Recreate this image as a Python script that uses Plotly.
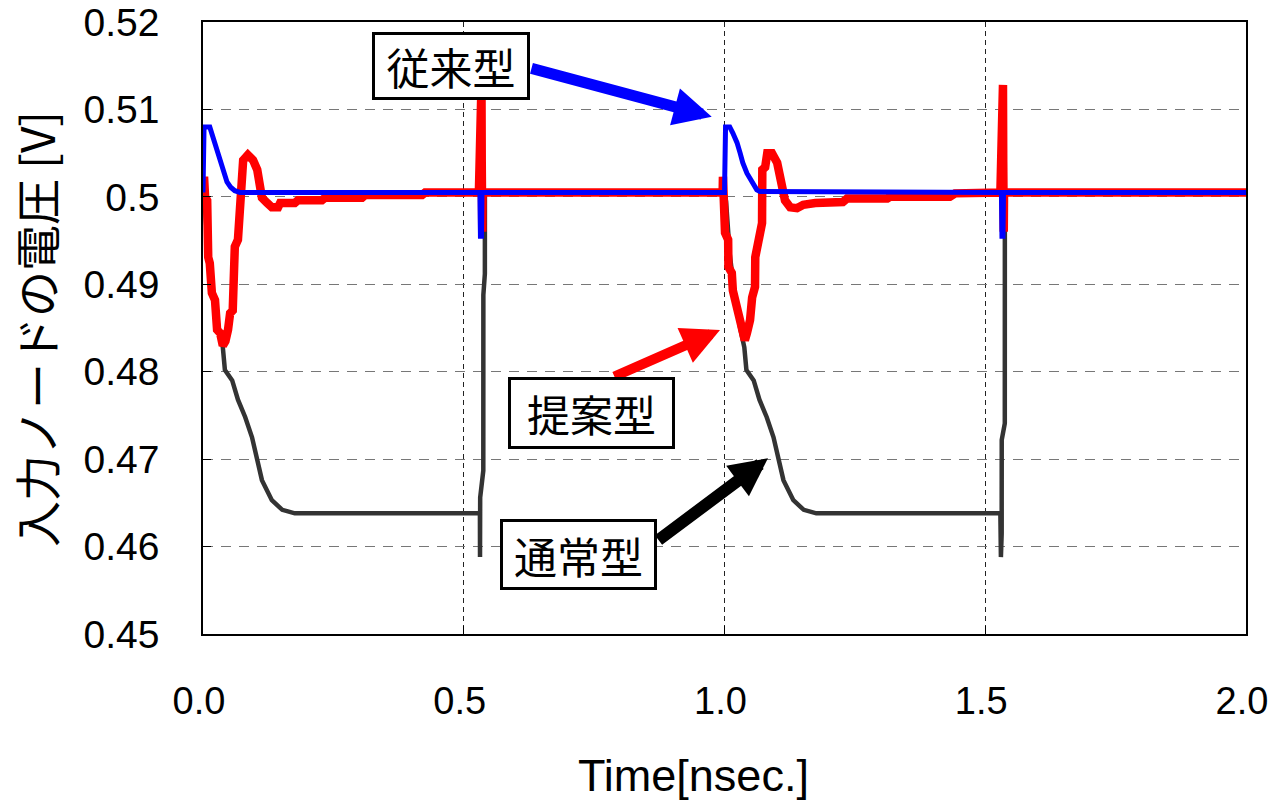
import plotly.graph_objects as go

# ---- data ----
# 従来型 (blue)
t_conv = [0.000, 0.002, 0.013, 0.017, 0.023, 0.028, 0.033, 0.040, 0.046, 0.053, 0.061, 0.071,
          0.531, 0.532, 0.534, 0.535,
          1.000, 1.002, 1.010, 1.016, 1.024, 1.030, 1.035, 1.043, 1.053, 1.062, 1.068,
          1.531, 1.532, 1.534, 1.535, 2.000]
v_conv = [0.5005, 0.5080, 0.5080, 0.5072, 0.5062, 0.5050, 0.5039, 0.5027, 0.5017, 0.5011, 0.5007, 0.5005,
          0.5005, 0.4955, 0.4955, 0.5005,
          0.5005, 0.5080, 0.5080, 0.5073, 0.5062, 0.5050, 0.5039, 0.5027, 0.5016, 0.5008, 0.5006,
          0.5005, 0.4955, 0.4955, 0.5005, 0.5005]

# 提案型 (red)
t_prop = [0.000, 0.002, 0.004, 0.008, 0.010, 0.013, 0.017, 0.023, 0.027, 0.033, 0.038, 0.043,
          0.048, 0.052, 0.057, 0.059, 0.061, 0.067, 0.071, 0.075, 0.077, 0.086, 0.096, 0.104,
          0.109, 0.113, 0.123, 0.132, 0.144, 0.148, 0.176, 0.182, 0.228, 0.234, 0.305, 0.311,
          0.420, 0.426,
          0.529, 0.5305, 0.531, 0.534, 0.5345, 0.535, 0.5355, 0.536,
          0.9965, 0.997, 1.001, 1.007, 1.0075, 1.014, 1.016, 1.024, 1.030, 1.034, 1.039, 1.043, 1.049,
          1.053, 1.0585, 1.059, 1.068, 1.072, 1.0725, 1.078, 1.082, 1.091, 1.101, 1.106, 1.112,
          1.116, 1.126, 1.139, 1.151, 1.174, 1.227, 1.235, 1.312, 1.317, 1.432, 1.442,
          1.529, 1.5305, 1.531, 1.534, 1.5345, 1.535, 1.5355, 1.536, 2.000]
v_prop = [0.5005, 0.5023, 0.5000, 0.4996, 0.4931, 0.4924, 0.4890, 0.4882, 0.4848, 0.4844, 0.4830, 0.4835,
          0.4848, 0.4867, 0.4870, 0.4905, 0.4943, 0.4951, 0.4996, 0.5027, 0.5042, 0.5048, 0.5042, 0.5031,
          0.5016, 0.4999, 0.4993, 0.4988, 0.4988, 0.4993, 0.4993, 0.4996, 0.4996, 0.4999, 0.4999, 0.5002,
          0.5002, 0.5005,
          0.5005, 0.5040, 0.5125, 0.5128, 0.5040, 0.5005, 0.4960, 0.5005,
          0.5005, 0.5023, 0.4959, 0.4951, 0.4920, 0.4913, 0.4893, 0.4874, 0.4867, 0.4848, 0.4836, 0.4844, 0.4859,
          0.4885, 0.4897, 0.4931, 0.4959, 0.4970, 0.5031, 0.5034, 0.5050, 0.5050, 0.5039, 0.5023, 0.5011,
          0.4996, 0.4988, 0.4987, 0.4991, 0.4993, 0.4994, 0.4998, 0.4998, 0.5000, 0.5000, 0.5004,
          0.5005, 0.5040, 0.5125, 0.5128, 0.5040, 0.5005, 0.4960, 0.5005, 0.5005]

# 通常型 (dark gray)
t_norm = [0.000, 0.003, 0.010, 0.020, 0.030, 0.038, 0.042, 0.056, 0.067, 0.081, 0.094, 0.104,
          0.113, 0.132, 0.152, 0.176,
          0.5310, 0.5312, 0.5315, 0.5375, 0.5376, 0.5405, 0.5406,
          1.000, 1.003, 1.010, 1.020, 1.030, 1.038, 1.042, 1.056, 1.067, 1.081, 1.094, 1.104,
          1.113, 1.132, 1.152, 1.176,
          1.5290, 1.5300, 1.5315, 1.5316, 1.5375, 1.5376, 2.000]
v_norm = [0.5005, 0.4995, 0.4935, 0.4885, 0.4850, 0.4828, 0.4802, 0.4790, 0.4768, 0.4748, 0.4725, 0.4699,
          0.4676, 0.4653, 0.4642, 0.4638,
          0.4638, 0.4588, 0.4656, 0.4687, 0.4888, 0.4912, 0.5005,
          0.5005, 0.4995, 0.4935, 0.4885, 0.4850, 0.4828, 0.4802, 0.4790, 0.4768, 0.4748, 0.4725, 0.4699,
          0.4676, 0.4653, 0.4642, 0.4638,
          0.4638, 0.4588, 0.4615, 0.4722, 0.4741, 0.5005, 0.5005]

x_tickvals = [0.0, 0.5, 1.0, 1.5, 2.0]
x_ticktext = ["0.0", "0.5", "1.0", "1.5", "2.0"]
y_tickvals = [0.45, 0.46, 0.47, 0.48, 0.49, 0.50, 0.51, 0.52]
y_ticktext = ["0.45", "0.46", "0.47", "0.48", "0.49", "0.5", "0.51", "0.52"]

labels = ["従来型", "提案型", "通常型"]
# label box centers and arrow (tail -> tip), in data units
box_pos = [(0.4765, 0.51497), (0.745, 0.47532), (0.720, 0.45907)]
arrow_tail = [(0.627, 0.51474), (0.786, 0.47938), (0.8706, 0.46062)]
arrow_tip = [(0.9755, 0.50917), (0.9914, 0.48476), (1.0834, 0.47011)]

fig = go.Figure()
fig.add_trace(go.Scatter(x=t_norm, y=v_norm, mode="lines",
                         line=dict(color="#333333", width=4.5), showlegend=False))
fig.add_trace(go.Scatter(x=t_prop, y=v_prop, mode="lines",
                         line=dict(color="#FF0000", width=8.5), showlegend=False))
fig.add_trace(go.Scatter(x=t_conv, y=v_conv, mode="lines",
                         line=dict(color="#0000FF", width=5), showlegend=False))

arrow_colors = ["#0000FF", "#FF0000", "#000000"]
arrow_widths = [11, 10, 12]
annotations = []
for (tx, ty), (hx, hy), c, w in zip(arrow_tail, arrow_tip, arrow_colors, arrow_widths):
    annotations.append(dict(x=hx, y=hy, ax=tx, ay=ty, xref="x", yref="y", axref="x", ayref="y",
                            text="", showarrow=True, arrowhead=2, arrowsize=7.6 / w,
                            arrowwidth=w, arrowcolor=c, standoff=0, startstandoff=0))
box_sizes = [(148, 58), (157, 62), (147, 61)]
for lab, (bx, by), (bw, bh) in zip(labels, box_pos, box_sizes):
    annotations.append(dict(x=bx, y=by, xref="x", yref="y", text=lab, showarrow=False,
                            font=dict(family="Noto Sans CJK JP", size=43, color="black"),
                            bgcolor="white", bordercolor="black", borderwidth=3, borderpad=2,
                            width=bw, height=bh, xanchor="center", yanchor="middle", align="center"))
# axis titles
annotations.append(dict(x=0.4698, y=-0.2304, xref="paper", yref="paper", text="Time[nsec.]",
                        showarrow=False, xanchor="center", yanchor="middle",
                        font=dict(family="Liberation Sans, Arial", size=45, color="black")))
annotations.append(dict(x=-0.1611, y=0.4984, xref="paper", yref="paper", text="入力ノードの電圧 [V]",
                        showarrow=False, xanchor="center", yanchor="middle", textangle=-90,
                        font=dict(family="Noto Sans CJK JP", size=46, color="black")))

fig.update_layout(
    width=1269, height=801,
    margin=dict(l=203, r=23, t=22, b=167, autoexpand=False),
    paper_bgcolor="white", plot_bgcolor="white",
    showlegend=False,
    annotations=annotations,
    xaxis=dict(range=[0, 2], tickvals=x_tickvals, ticktext=x_ticktext, automargin=False,
               showline=True, linecolor="black", linewidth=1.5, mirror=True,
               ticks="inside", ticklen=8, tickcolor="black", tickwidth=1,
               showgrid=True, gridcolor="#222222", gridwidth=1, griddash="5px,4px",
               zeroline=False, ticklabelstandoff=33, ticklabeloverflow="allow",
               ticklabelshift=-4,
               tickfont=dict(family="Liberation Sans, Arial", size=38, color="black")),
    yaxis=dict(range=[0.45, 0.52], tickvals=y_tickvals, ticktext=y_ticktext, automargin=False,
               showline=True, linecolor="black", linewidth=1.5, mirror=True,
               ticks="inside", ticklen=8, tickcolor="black", tickwidth=1,
               showgrid=True, gridcolor="#777777", gridwidth=1, griddash="10px,8px",
               zeroline=False, ticklabelstandoff=34, ticklabeloverflow="allow",
               tickfont=dict(family="Liberation Sans, Arial", size=39, color="black")),
)

fig.write_html("out.html", config={"displayModeBar": False},
               post_script="document.body.style.margin='0px';document.body.style.overflow='hidden';")
